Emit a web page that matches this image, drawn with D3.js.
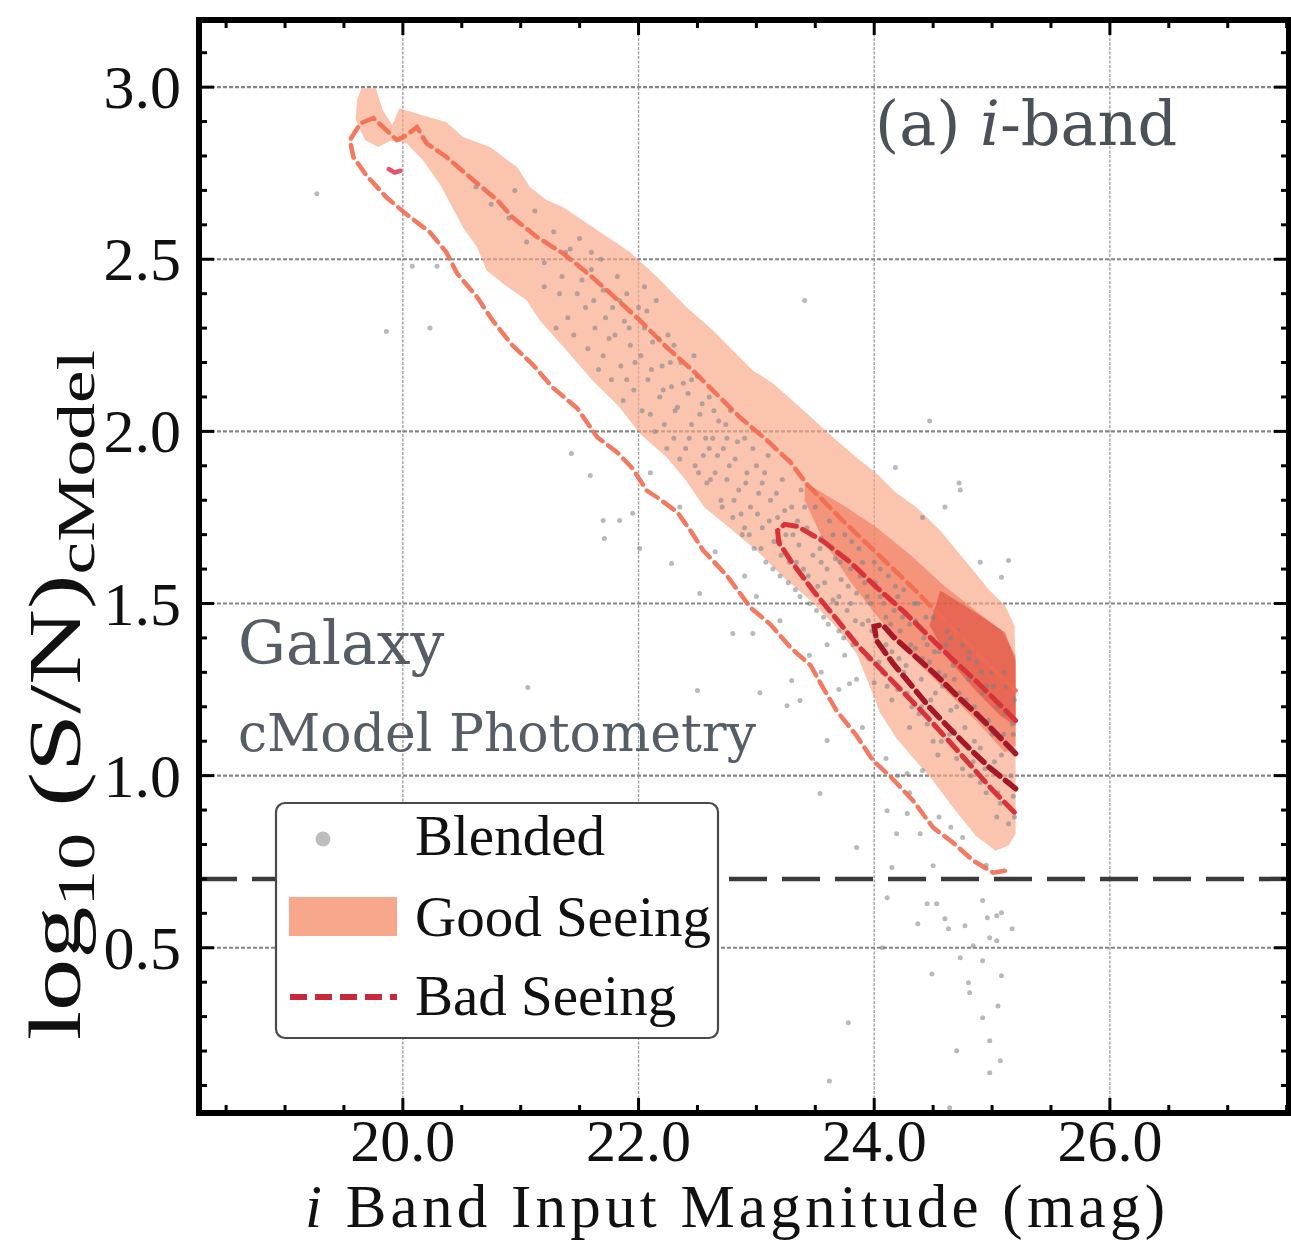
<!DOCTYPE html>
<html><head><meta charset="utf-8">
<script src="https://cdn.jsdelivr.net/npm/d3@7"></script>
<style>html,body{margin:0;padding:0;background:#fff;} svg{display:block}</style>
</head><body>
<svg id="chart" width="1291" height="1244"></svg>
<script>
// ---------------- DATA ----------------
const xTickValues = [20, 22, 24, 26];
const xTickLabels = ["20.0", "22.0", "24.0", "26.0"];
const yTickValues = [0.5, 1.0, 1.5, 2.0, 2.5, 3.0];
const yTickLabels = ["0.5", "1.0", "1.5", "2.0", "2.5", "3.0"];
const snThreshold = 0.7;
const legendLabels = ["Blended", "Good Seeing", "Bad Seeing"];

// Good seeing: filled density contours [mag, log10 S/N]
const goodOuter = [
 [19.61,2.962],[19.65,2.997],[19.77,2.997],[19.83,2.933],[19.91,2.890],[19.97,2.939],
 [20.13,2.922],[20.37,2.898],[20.51,2.855],[20.74,2.826],[20.97,2.767],[21.08,2.709],
 [21.22,2.672],[21.36,2.651],[21.65,2.584],[21.93,2.520],[22.16,2.448],[22.41,2.360],
 [22.63,2.294],[22.80,2.235],[22.97,2.177],[23.14,2.140],[23.37,2.070],[23.68,1.974],
 [23.85,1.924],[24.02,1.878],[24.19,1.820],[24.36,1.779],[24.56,1.712],[24.77,1.625],
 [24.98,1.538],[25.11,1.494],[25.19,1.436],[25.20,1.314],[25.20,1.044],[25.20,0.831],
 [25.14,0.797],[25.03,0.782],[24.86,0.826],[24.67,0.907],[24.50,0.985],[24.33,1.052],
 [24.19,1.108],[24.05,1.183],[23.96,1.262],[23.85,1.355],[23.68,1.430],[23.46,1.509],
 [23.23,1.576],[23.03,1.645],[22.80,1.712],[22.56,1.779],[22.39,1.863],[22.24,1.924],
 [22.01,1.994],[21.84,2.070],[21.61,2.148],[21.39,2.235],[21.16,2.323],[21.05,2.381],
 [20.87,2.424],[20.71,2.468],[20.63,2.535],[20.51,2.593],[20.42,2.651],[20.31,2.721],
 [20.17,2.788],[20.03,2.837],[19.90,2.845],[19.79,2.826],[19.68,2.846],[19.60,2.904]
];
const goodMid = [
 [23.41,1.852],[23.74,1.785],[24.02,1.721],[24.31,1.640],[24.59,1.552],[24.88,1.474],
 [25.08,1.422],[25.20,1.349],[25.20,1.087],[25.11,1.067],[24.88,1.154],[24.59,1.253],
 [24.31,1.349],[24.02,1.465],[23.79,1.567],[23.57,1.683],[23.41,1.799]
];
const goodCore = [
 [24.56,1.538],[24.86,1.474],[25.11,1.416],[25.20,1.334],[25.20,1.145],[25.07,1.174],
 [24.86,1.247],[24.64,1.334],[24.47,1.436]
];

// Bad seeing: dashed density contours
const badOuter = [
 [25.20,1.247],[24.94,1.334],[24.64,1.436],[24.35,1.538],[24.05,1.637],[23.75,1.735],
 [23.43,1.846],[23.29,1.910],[23.09,1.974],[22.86,2.041],[22.63,2.119],[22.46,2.177],
 [22.24,2.244],[22.01,2.323],[21.78,2.395],[21.59,2.453],[21.36,2.517],[21.14,2.564],
 [20.93,2.622],[20.80,2.672],[20.57,2.738],[20.37,2.797],[20.20,2.837],[20.12,2.884],
 [20.03,2.860],[19.95,2.846],[19.86,2.875],[19.75,2.910],[19.64,2.895],[19.55,2.846],
 [19.58,2.797],[19.69,2.744],[19.86,2.680],[20.03,2.631],[20.23,2.578],[20.37,2.520],
 [20.46,2.459],[20.63,2.390],[20.76,2.323],[20.93,2.250],[21.10,2.195],[21.27,2.128],
 [21.48,2.067],[21.65,1.983],[21.82,1.939],[21.95,1.892],[22.07,1.828],[22.16,1.808],
 [22.33,1.765],[22.44,1.712],[22.55,1.654],[22.75,1.581],[22.95,1.488],[23.12,1.439],
 [23.29,1.372],[23.46,1.320],[23.57,1.253],[23.68,1.189],[23.85,1.116],[23.99,1.044],
 [24.13,1.000],[24.33,0.927],[24.50,0.849],[24.67,0.805],[24.84,0.753],[25.01,0.718],
 [25.11,0.724]
];
const badIsland = [[19.88,2.762],[19.93,2.752],[19.98,2.757]];
const badMid = [
 [25.20,1.160],[25.05,1.212],[24.86,1.276],[24.64,1.346],[24.44,1.413],[24.25,1.477],
 [24.02,1.547],[23.80,1.619],[23.57,1.680],[23.35,1.724],[23.24,1.730],[23.18,1.712],
 [23.19,1.677],[23.29,1.625],[23.48,1.538],[23.67,1.459],[23.86,1.378],[24.05,1.311],
 [24.25,1.241],[24.44,1.174],[24.63,1.102],[24.82,1.029],[25.01,0.956],[25.20,0.890]
];
const badInner = [
 [25.20,1.064],[25.07,1.110],[24.90,1.169],[24.70,1.233],[24.52,1.294],[24.33,1.352],
 [24.16,1.404],[24.07,1.439],[24.00,1.433],[24.02,1.392],[24.16,1.326],[24.33,1.256],
 [24.47,1.198],[24.64,1.137],[24.81,1.078],[24.98,1.023],[25.20,0.962]
];

// Blended sources [mag, log10 S/N]
const blended = [
 [19.27,2.69],[19.86,2.29],[20.23,2.30],[20.08,2.48],[20.29,2.48],[23.41,2.38],
 [24.47,2.03],[24.73,1.83],[24.18,1.895],[24.72,1.85],[25.14,1.625],[24.41,1.75],[25.08,1.576],
 [21.43,1.936],[21.59,1.872],[21.70,1.741],[21.84,1.741],[21.95,1.762],[21.71,1.689],
 [22.01,1.660],[22.28,1.616],[22.52,1.529],[22.80,1.413],[22.97,1.413],[21.06,1.256],
 [22.50,1.247],[23.03,1.241],[23.26,1.203],[23.30,1.276],
 [23.54,0.948],[24.11,0.898],[24.28,0.890],[24.39,0.831],[24.19,0.831],[23.85,0.791],
 [23.60,1.102],[23.37,1.218],[23.79,1.267],[24.28,1.006],[24.41,1.015],
 [24.15,0.733],[24.50,0.738],[24.11,0.645],[24.45,0.628],[24.53,0.628],[24.37,0.570],
 [24.60,0.584],[24.63,0.555],[24.77,0.564],[24.92,0.637],[24.96,0.587],[25.04,0.593],
 [25.08,0.602],[25.17,0.555],[24.98,0.529],[25.04,0.520],[24.84,0.506],[24.07,0.500],
 [24.73,0.471],[24.92,0.462],[24.49,0.424],[25.08,0.419],[24.80,0.398],[24.81,0.369],
 [25.05,0.331],[24.92,0.297],[23.78,0.282],[24.98,0.230],[24.70,0.201],[25.07,0.172],
 [24.98,0.137],[24.64,0.035],[23.62,0.113],
 [20.62,2.71],[20.75,2.66],[20.90,2.62],[20.95,2.70],[21.05,2.55],[21.12,2.64],[21.20,2.49],
 [21.28,2.58],[21.35,2.45],[21.42,2.53],[21.48,2.40],[21.50,2.56],
 [21.55,2.36],[21.60,2.47],[21.63,2.30],[21.68,2.50],[21.70,2.41],[21.75,2.27],[21.78,2.36],
 [21.82,2.45],[21.85,2.19],[21.88,2.32],[21.90,2.40],[21.93,2.25],[21.96,2.12],[22.00,2.36],
 [22.02,2.22],[22.05,2.30],[22.08,2.15],[22.10,2.05],[22.12,2.26],[22.15,2.38],[22.18,2.10],
 [22.20,2.19],[22.22,2.02],[22.25,2.28],[22.28,2.13],[22.30,1.98],[22.33,2.07],[22.36,2.20],
 [22.40,1.95],[22.42,2.11],[22.45,2.02],[22.48,1.90],
 [22.50,2.16],[22.52,2.05],[22.55,1.93],[22.58,1.85],[22.60,2.10],[22.63,1.98],[22.65,1.88],
 [22.68,2.03],[22.70,1.80],[22.72,1.95],[22.75,1.86],[22.78,2.06],[22.80,1.75],[22.82,1.92],
 [22.85,1.83],[22.88,1.70],[22.90,1.98],[22.92,1.88],[22.95,1.78],[22.98,1.66],[23.00,1.90],
 [23.02,1.82],[23.05,1.72],[23.08,1.62],[23.10,1.93],[23.12,1.80],[23.15,1.68],[23.18,1.75],
 [23.20,1.58],[23.22,1.86],[23.25,1.70],[23.28,1.62],[23.30,1.78],[23.33,1.54],[23.36,1.67],
 [23.38,1.83],[23.40,1.60],[23.43,1.72],[23.45,1.50],[23.48,1.64],
 [23.50,1.78],[23.52,1.55],[23.55,1.69],[23.57,1.46],[23.60,1.60],[23.62,1.74],[23.65,1.51],
 [23.67,1.63],[23.70,1.42],[23.72,1.57],[23.75,1.70],[23.77,1.48],[23.80,1.60],[23.82,1.38],
 [23.85,1.53],[23.87,1.66],[23.90,1.44],[23.92,1.56],[23.95,1.34],[23.97,1.50],[24.00,1.62],
 [24.02,1.40],[24.05,1.52],[24.07,1.30],[24.10,1.46],[24.12,1.58],[24.15,1.36],[24.17,1.48],
 [24.20,1.25],[24.22,1.42],[24.25,1.54],[24.27,1.32],[24.30,1.44],[24.32,1.20],[24.35,1.37],
 [24.37,1.50],[24.40,1.28],[24.42,1.40],[24.45,1.15],[24.47,1.33],
 [24.50,1.46],[24.52,1.24],[24.55,1.36],[24.57,1.10],[24.60,1.29],[24.62,1.42],[24.65,1.19],
 [24.67,1.32],[24.70,1.05],[24.72,1.24],[24.75,1.38],[24.77,1.14],[24.80,1.28],[24.82,1.00],
 [24.85,1.20],[24.87,1.33],[24.90,1.08],[24.92,1.24],[24.95,0.95],[24.97,1.16],[25.00,1.30],
 [25.02,1.04],[25.05,1.20],[25.07,0.92],[25.10,1.12],[25.12,1.26],[25.15,0.98],[25.17,1.15],
 [25.19,0.88],[25.19,1.22],
 [23.55,1.62],[23.60,1.38],[23.65,1.70],[23.70,1.52],[23.75,1.35],[23.80,1.50],[23.85,1.28],
 [23.90,1.62],[23.95,1.45],[24.00,1.27],[24.05,1.60],[24.10,1.38],[24.15,1.22],[24.20,1.52],
 [24.25,1.30],[24.30,1.14],[24.35,1.45],[24.40,1.20],[24.45,1.38],[24.50,1.10],[24.55,1.30],
 [24.60,1.15],[24.65,1.40],[24.70,1.20],[24.75,1.02],[24.80,1.34],[24.85,1.10],[24.90,0.98],
 [24.95,1.26],[25.00,1.12],[25.05,0.95],[25.10,1.30],[25.15,1.08],[25.18,0.94],
 [22.30,2.25],[22.45,2.15],[22.60,1.95],[22.75,1.98],[22.90,1.72],[23.05,1.85],[23.20,1.68],
 [23.35,1.74],[21.90,2.15],[22.05,2.42],[21.70,2.22],[21.40,2.33],[21.20,2.42],[21.60,2.52],
 [21.30,2.30],[21.33,2.40],[21.38,2.52],[21.45,2.28],[21.52,2.44],[21.57,2.24],[21.62,2.38],
 [21.66,2.18],[21.72,2.33],[21.77,2.15],[21.80,2.28],[21.84,2.38],[21.87,2.09],[21.92,2.30],
 [21.97,2.20],[22.03,2.06],[22.07,2.35],[22.11,2.18],[22.14,2.00],[22.17,2.27],[22.21,2.12],
 [22.24,1.95],[22.27,2.20],[22.31,2.06],[22.35,1.92],[22.38,2.14],[22.43,1.98],[22.47,2.22],
 [22.51,1.88],[22.54,2.08],[22.57,1.98],[22.61,1.86],[22.64,2.06],[22.67,1.93],[22.71,1.78],
 [22.74,2.02],[22.77,1.90],[22.81,1.80],[22.84,1.97],[22.87,1.76],[22.91,1.85],[22.94,1.70],
 [22.97,1.95],[23.01,1.76],[23.04,1.66],[23.07,1.88],[23.11,1.74],[23.14,1.60],[23.17,1.82],
 [23.21,1.64],[23.24,1.77],[23.27,1.56],[23.31,1.70],[23.34,1.62],[23.37,1.52],[23.41,1.78],
 [23.44,1.58],[23.47,1.70],
 [23.51,1.48],[23.54,1.66],[23.58,1.56],[23.61,1.44],[23.64,1.66],[23.68,1.50],[23.71,1.62],
 [23.74,1.40],[23.78,1.55],[23.81,1.68],[23.84,1.45],[23.88,1.58],[23.91,1.36],[23.94,1.52],
 [23.98,1.42],[24.01,1.56],[24.04,1.33],[24.08,1.50],[24.11,1.26],[24.14,1.44],[24.18,1.55],
 [24.21,1.34],[24.24,1.46],[24.28,1.24],[24.31,1.38],[24.34,1.50],[24.38,1.18],[24.41,1.34],
 [24.44,1.46],[24.48,1.22],[24.51,1.36],[24.54,1.06],[24.58,1.26],[24.61,1.38],[24.64,1.12],
 [24.68,1.28],[24.71,1.42],[24.74,1.10],[24.78,1.22],[24.81,1.36],[24.84,1.04],[24.88,1.18],
 [24.91,1.30],[24.94,1.02],[24.98,1.14],[25.01,1.26],[25.04,0.88],[25.08,1.06],[25.11,1.18],
 [25.14,0.86],[25.16,1.00],[25.18,1.12],
 [22.10,1.88],[22.35,1.78],[22.65,1.65],[23.00,1.52],[23.20,1.45],[23.45,1.35],[23.70,1.25],
 [23.90,1.14],[24.10,1.05],[24.30,0.95],[24.55,0.88],[24.75,0.82],[24.95,0.74],[22.90,1.58],
 [23.55,1.30],[24.20,1.00],[24.65,0.85],[24.90,1.62],[24.60,1.78]
];

// ---------------- LAYOUT ----------------
const L = 199, R = 1289, T = 20, B = 1113;
const svg = d3.select("#chart");
const x = d3.scaleLinear().domain([18.27, 27.52]).range([L, R]);
const y = d3.scaleLinear().domain([0.02, 3.195]).range([B, T]);

svg.append("defs").append("clipPath").attr("id", "clip")
  .append("rect").attr("x", L).attr("y", T).attr("width", R - L).attr("height", B - T);

const plot = svg.append("g").attr("clip-path", "url(#clip)");

// grid
plot.selectAll(".vg").data(xTickValues).enter().append("line")
  .attr("x1", d => x(d)).attr("x2", d => x(d)).attr("y1", T).attr("y2", B)
  .attr("stroke", "#a0a0a0").attr("stroke-width", 1.4).attr("stroke-dasharray", "3,1.5");
plot.selectAll(".hg").data(yTickValues).enter().append("line")
  .attr("x1", L).attr("x2", R).attr("y1", d => y(d)).attr("y2", d => y(d))
  .attr("stroke", "#858585").attr("stroke-width", 2.2).attr("stroke-dasharray", "4,2");

const line = d3.line().x(d => x(d[0])).y(d => y(d[1]));
const closed = d3.line().x(d => x(d[0])).y(d => y(d[1])).curve(d3.curveLinearClosed);

// good seeing fills
plot.append("path").attr("d", closed(goodOuter)).attr("fill", "#f7a585").attr("fill-opacity", 0.66);
plot.append("path").attr("d", closed(goodMid)).attr("fill", "#ee6f50").attr("fill-opacity", 0.55);
plot.append("path").attr("d", closed(goodCore)).attr("fill", "#d83c30").attr("fill-opacity", 0.5);

// blended points
plot.selectAll(".pt").data(blended).enter().append("circle")
  .attr("cx", d => x(d[0])).attr("cy", d => y(d[1])).attr("r", 2.5)
  .attr("fill", "#7a8089").attr("fill-opacity", 0.55);

// bad seeing dashed contours
plot.append("path").attr("d", line(badOuter)).attr("fill", "none")
  .attr("stroke", "#f26a50").attr("stroke-width", 4.5).attr("stroke-dasharray", "13,7")
  .attr("stroke-linecap", "round").attr("stroke-opacity", 0.9);
plot.append("path").attr("d", line(badIsland)).attr("fill", "none")
  .attr("stroke", "#e4546a").attr("stroke-width", 4.5).attr("stroke-linecap", "round");
plot.append("path").attr("d", line(badMid)).attr("fill", "none")
  .attr("stroke", "#d8323a").attr("stroke-width", 5).attr("stroke-dasharray", "14,7")
  .attr("stroke-linecap", "round");
plot.append("path").attr("d", line(badInner)).attr("fill", "none")
  .attr("stroke", "#a51828").attr("stroke-width", 5.5).attr("stroke-dasharray", "14,7")
  .attr("stroke-linecap", "round");

// threshold line
plot.append("line").attr("x1", L).attr("x2", R).attr("y1", y(snThreshold)).attr("y2", y(snThreshold))
  .attr("stroke", "#3a3a3a").attr("stroke-width", 4.5).attr("stroke-dasharray", "38,15");

// ---- ticks ----
const minorX = d3.range(18.5, 27.51, 0.5);
const minorY = d3.range(0.1, 3.11, 0.1).map(v => +v.toFixed(2));
const axes = svg.append("g").attr("stroke", "#000").attr("stroke-width", 3);
minorX.forEach(v => {
  const major = xTickValues.includes(v);
  const len = major ? 15 : 8;
  axes.append("line").attr("x1", x(v)).attr("x2", x(v)).attr("y1", B).attr("y2", B - len);
  axes.append("line").attr("x1", x(v)).attr("x2", x(v)).attr("y1", T).attr("y2", T + len);
});
minorY.forEach(v => {
  const major = yTickValues.some(t => Math.abs(t - v) < 1e-6);
  const len = major ? 15 : 8;
  axes.append("line").attr("y1", y(v)).attr("y2", y(v)).attr("x1", L).attr("x2", L + len);
  axes.append("line").attr("y1", y(v)).attr("y2", y(v)).attr("x1", R).attr("x2", R - len);
});

// spines
svg.append("rect").attr("x", L).attr("y", T).attr("width", R - L).attr("height", B - T)
  .attr("fill", "none").attr("stroke", "#000").attr("stroke-width", 6);

// tick labels
const tickFont = "'Liberation Serif', 'Times New Roman', serif";
svg.selectAll(".xl").data(xTickValues).enter().append("text")
  .attr("x", d => x(d)).attr("y", 1161).attr("text-anchor", "middle")
  .attr("font-family", tickFont).attr("font-size", 60).attr("fill", "#111")
  .text((d, i) => xTickLabels[i]);
svg.selectAll(".yl").data(yTickValues).enter().append("text")
  .attr("x", 181).attr("y", d => y(d) + 21).attr("text-anchor", "end")
  .attr("font-family", tickFont).attr("font-size", 62).attr("fill", "#111")
  .text((d, i) => yTickLabels[i]);

// axis labels
const xl = svg.append("text").attr("x", 735).attr("y", 1227).attr("text-anchor", "middle")
  .attr("font-family", tickFont).attr("font-size", 61).attr("fill", "#111")
  .attr("textLength", 860).attr("lengthAdjust", "spacing");
xl.append("tspan").attr("font-style", "italic").text("i");
xl.append("tspan").text(" Band Input Magnitude (mag)");

const yl = svg.append("text").attr("transform", "translate(80,695) rotate(-90)")
  .attr("text-anchor", "middle").attr("font-family", tickFont).attr("font-size", 74).attr("fill", "#111")
  .attr("textLength", 690).attr("lengthAdjust", "spacingAndGlyphs");
yl.append("tspan").text("log");
yl.append("tspan").attr("font-size", 52).attr("dy", 14).text("10");
yl.append("tspan").attr("dy", -14).text(" (S/N)");
yl.append("tspan").attr("font-size", 52).attr("dy", 14).text("cModel");

// annotations
const annFont = "'DejaVu Serif', serif";
const ann = svg.append("text").attr("x", 875).attr("y", 145).attr("font-family", annFont)
  .attr("font-size", 62).attr("fill", "#4b5159");
ann.append("tspan").text("(a) ");
ann.append("tspan").attr("font-style", "italic").text("i");
ann.append("tspan").text("-band");
svg.append("text").attr("x", 238).attr("y", 664).attr("font-family", annFont)
  .attr("font-size", 60).attr("fill", "#575d66").text("Galaxy");
svg.append("text").attr("x", 238).attr("y", 751).attr("font-family", annFont)
  .attr("font-size", 52).attr("fill", "#575d66").text("cModel Photometry");

// legend
const lg = svg.append("g");
lg.append("rect").attr("x", 276).attr("y", 803).attr("width", 442).attr("height", 235)
  .attr("rx", 9).attr("fill", "#fff").attr("stroke", "#4a4a4a").attr("stroke-width", 2.2);
lg.append("circle").attr("cx", 323).attr("cy", 839).attr("r", 7.5).attr("fill", "#bdbdbd");
lg.append("rect").attr("x", 289).attr("y", 897).attr("width", 108).attr("height", 39).attr("fill", "#f8a88a");
lg.append("line").attr("x1", 290).attr("x2", 397).attr("y1", 997).attr("y2", 997)
  .attr("stroke", "#c8283a").attr("stroke-width", 6).attr("stroke-dasharray", "17,8");
const legY = [855, 936, 1015];
legendLabels.forEach((t, i) => {
  lg.append("text").attr("x", 415).attr("y", legY[i]).attr("font-family", tickFont)
    .attr("font-size", 57).attr("fill", "#111").text(t);
});
</script>
</body></html>
